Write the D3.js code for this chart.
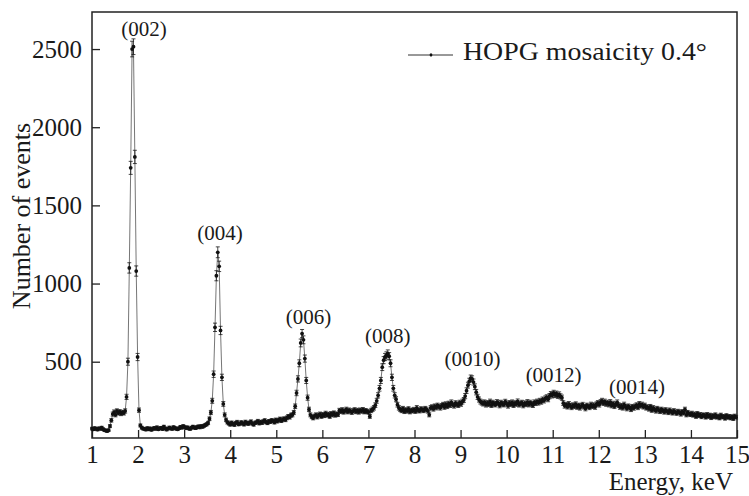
<!DOCTYPE html>
<html><head><meta charset="utf-8">
<script src="https://cdn.jsdelivr.net/npm/d3@7"></script>
<style>
body{margin:0;background:#fff}
svg{display:block}
text{font-family:"Liberation Serif","Times New Roman",serif;fill:#1a1a1a}
</style>
</head><body><svg id="c" width="749" height="496"></svg>
<script>
// ---- data ----
const energyStart = 1.0;   // keV, first bin centre
const binWidth = 0.03;     // keV per bin
const counts = [
  72,68,75,70,66,74,71,78,69,62,            // 0
  60,56,62,88,125,165,178,160,185,172,      // 10
  180,168,176,172,185,275,500,1100,1740,2500, // 20
  2515,1810,1080,530,190,92,78,72,70,66,    // 30
  75,68,73,64,70,76,71,80,68,74,            // 40
  77,69,84,73,66,72,79,74,70,81,            // 50
  76,71,68,75,83,78,88,82,76,80,            // 60
  73,70,78,84,79,75,82,86,80,88,            // 70
  84,90,95,100,108,135,175,250,420,720,     // 80
  1050,1200,1110,700,400,230,160,128,112,105, // 90
  98,110,102,96,108,114,100,104,112,106,    // 100
  99,115,108,103,110,117,104,98,109,112,    // 110
  120,106,115,109,118,124,113,108,119,116,  // 120
  125,121,112,128,119,126,134,122,130,136,  // 130
  128,141,150,145,158,160,175,215,300,390,  // 140
  490,620,680,640,520,380,270,195,160,148,  // 150
  140,152,160,146,158,165,150,162,155,170,  // 160
  158,164,150,168,160,172,158,166,162,188,  // 170
  182,192,178,185,195,180,190,184,176,186,  // 180
  192,181,188,178,190,184,193,180,187,182,  // 190
  178,150,188,196,205,222,250,285,330,380,  // 200
  465,510,530,540,552,535,490,400,330,285,  // 210
  260,225,205,195,188,200,182,192,185,198,  // 220
  180,190,186,194,183,205,190,186,198,192,  // 230
  188,200,195,185,160,205,210,198,215,206,  // 240
  220,212,205,218,225,210,228,215,232,222,  // 250
  240,226,218,235,228,222,238,230,245,255,  // 260
  280,315,350,375,395,390,370,340,305,275,  // 270
  258,245,238,232,240,225,236,228,245,222,  // 280
  238,230,226,242,235,220,238,230,226,244,  // 290
  232,218,236,228,240,222,235,230,246,225,  // 300
  232,238,220,234,228,242,226,238,230,222,  // 310
  240,235,245,238,250,244,258,252,265,272,  // 320
  260,280,292,285,300,288,295,282,290,278,  // 330
  270,235,218,225,212,230,218,208,222,215,  // 340
  228,210,220,205,218,225,212,200,220,214,  // 350
  208,226,215,222,210,228,236,225,242,250,  // 360
  235,245,230,238,226,242,220,232,215,228,  // 370
  240,222,210,218,205,226,212,200,215,208,  // 380
  195,212,204,215,222,208,230,218,226,212,  // 390
  220,205,210,198,212,190,205,196,185,200,  // 400
  192,182,195,188,178,192,184,175,190,180,  // 410
  172,186,178,170,182,176,165,180,172,195,  // 420
  160,175,166,162,170,158,165,150,168,155,  // 430
  162,148,160,156,145,162,150,158,142,155,  // 440
  148,160,145,152,140,158,146,150,138,155,  // 450
  144,150,140,148,136,152,145               // 460
];
const xTicks = [1,2,3,4,5,6,7,8,9,10,11,12,13,14,15];
const yTicks = [500,1000,1500,2000,2500];
const peakLabels  = ["(002)","(004)","(006)","(008)","(0010)","(0012)","(0014)"];
const labelEnergy = [2.13, 3.78, 5.70, 7.42, 9.26, 11.02, 12.83];
const labelCount  = [2582, 1279, 739, 618, 472, 370, 294];
const legendLabel = "HOPG mosaicity 0.4°";
const xTitle = "Energy, keV";
const yTitle = "Number of events";

// ---- layout ----
const pL = 92, pR = 737, pT = 12, pB = 438;
const svg = d3.select("#c");
const x = d3.scaleLinear().domain([1, 15]).range([pL, pR]);
const y = d3.scaleLinear().domain([12, 2737]).range([pB, pT]);
const serif = '"Liberation Serif","Times New Roman",serif';

const pts = counts.map((c, i) => ({e: energyStart + i * binWidth, c: c, s: Math.sqrt(c)}));

// axes
const xAxis = d3.axisBottom(x).tickValues(xTicks).tickFormat(d3.format("d"))
  .tickSizeInner(-8).tickSizeOuter(0).tickPadding(7);
const gx = svg.append("g").attr("transform", `translate(0,${pB})`).call(xAxis);
gx.select(".domain").remove();
gx.selectAll(".tick line").attr("stroke", "#222").attr("stroke-width", 1.3);
gx.selectAll(".tick text").attr("font-size", 25).attr("fill", "#1a1a1a").attr("font-family", serif);

const yAxis = d3.axisLeft(y).tickValues(yTicks).tickFormat(d3.format("d"))
  .tickSizeInner(-8).tickSizeOuter(0).tickPadding(10);
const gy = svg.append("g").attr("transform", `translate(${pL},0)`).call(yAxis);
gy.select(".domain").remove();
gy.selectAll(".tick line").attr("stroke", "#222").attr("stroke-width", 1.3);
gy.selectAll(".tick text").attr("font-size", 25).attr("fill", "#1a1a1a").attr("font-family", serif);

// frame
svg.append("rect").attr("x", pL).attr("y", pT)
  .attr("width", pR - pL).attr("height", pB - pT)
  .attr("fill", "none").attr("stroke", "#222").attr("stroke-width", 1.5);

// data line
const line = d3.line().x(d => x(d.e)).y(d => y(d.c));
svg.append("path").datum(pts).attr("d", line)
  .attr("fill", "none").attr("stroke", "#666").attr("stroke-width", 0.9);

// error bars
const eb = svg.append("g").attr("stroke", "#1a1a1a").attr("stroke-width", 0.8);
eb.selectAll("line.v").data(pts).join("line").attr("class", "v")
  .attr("x1", d => x(d.e)).attr("x2", d => x(d.e))
  .attr("y1", d => y(d.c - d.s)).attr("y2", d => y(d.c + d.s));
eb.selectAll("line.t").data(pts).join("line").attr("class", "t")
  .attr("x1", d => x(d.e) - 2).attr("x2", d => x(d.e) + 2)
  .attr("y1", d => y(d.c + d.s)).attr("y2", d => y(d.c + d.s));
eb.selectAll("line.b").data(pts).join("line").attr("class", "b")
  .attr("x1", d => x(d.e) - 2).attr("x2", d => x(d.e) + 2)
  .attr("y1", d => y(d.c - d.s)).attr("y2", d => y(d.c - d.s));

// markers
svg.append("g").selectAll("circle").data(pts).join("circle")
  .attr("cx", d => x(d.e)).attr("cy", d => y(d.c)).attr("r", 1.9).attr("fill", "#111");

// peak labels
svg.append("g").selectAll("text").data(peakLabels).join("text")
  .attr("x", (d, i) => x(labelEnergy[i])).attr("y", (d, i) => y(labelCount[i]))
  .attr("text-anchor", "middle").attr("font-size", 21).text(d => d);

// legend
const lg = svg.append("g");
lg.append("line").attr("x1", 408).attr("x2", 453).attr("y1", 55).attr("y2", 55)
  .attr("stroke", "#333").attr("stroke-width", 1);
lg.append("line").attr("x1", 431).attr("x2", 431).attr("y1", 53.5).attr("y2", 56.5)
  .attr("stroke", "#111").attr("stroke-width", 0.8);
lg.append("circle").attr("cx", 431).attr("cy", 55).attr("r", 1.4).attr("fill", "#111");
lg.append("text").attr("x", 463).attr("y", 60).attr("font-size", 26)
  .attr("textLength", 244).attr("lengthAdjust", "spacingAndGlyphs").text(legendLabel);

// axis titles
svg.append("text").attr("x", 733).attr("y", 490).attr("text-anchor", "end")
  .attr("font-size", 25).text(xTitle);
svg.append("text").attr("transform", "translate(30,216) rotate(-90)")
  .attr("text-anchor", "middle").attr("font-size", 26).text(yTitle);
</script>
</body></html>
